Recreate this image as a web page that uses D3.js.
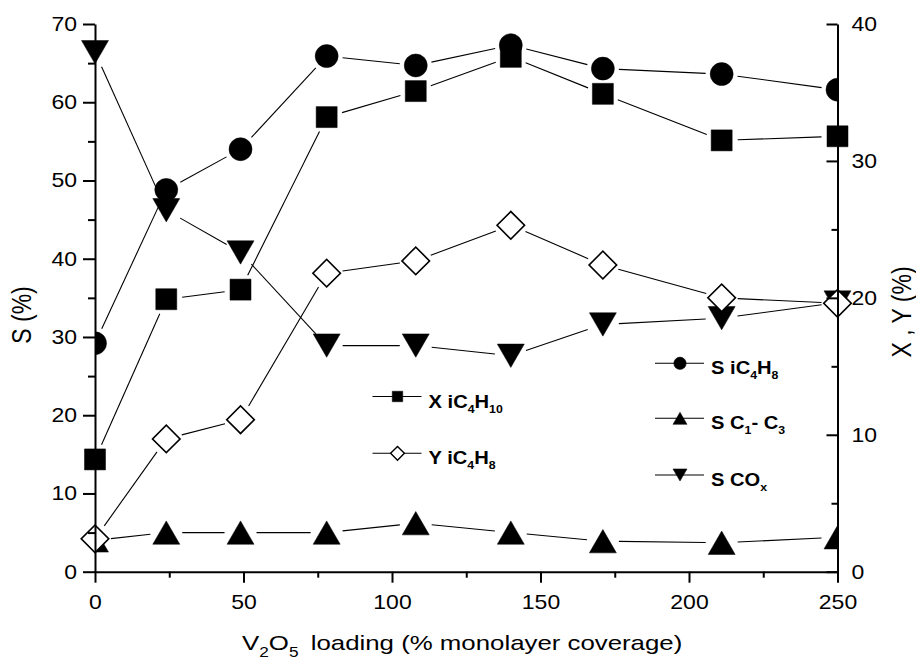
<!DOCTYPE html>
<html>
<head>
<meta charset="utf-8">
<script src="https://cdn.jsdelivr.net/npm/d3@7"></script>
<style>
  body { margin: 0; background: #fff; }
  svg { display: block; font-family: "Liberation Sans", Arial, Helvetica, sans-serif; }
</style>
</head>
<body>
<script>
// V2O5 loading (% monolayer coverage)
const loading = [0, 24, 49, 78, 108, 140, 171, 211, 250];

// left axis: selectivities S (%)
const sIC4H8 = [29.2, 48.8, 54.0, 65.9, 64.7, 67.3, 64.3, 63.6, 61.6];
const sC1C3  = [4.0, 5.0, 5.0, 5.0, 6.2, 5.0, 3.9, 3.7, 4.4];
const sCOx   = [66.4, 46.2, 40.8, 28.9, 28.9, 27.6, 31.6, 32.4, 34.4];

// right axis: conversion X and yield Y (%)
const xIC4H10 = [8.2, 19.9, 20.6, 33.2, 35.1, 37.6, 34.9, 31.5, 31.8];
const yIC4H8  = [2.4, 9.7, 11.1, 21.8, 22.7, 25.3, 22.4, 20.0, 19.6];

const xTicks = [0, 50, 100, 150, 200, 250];
const leftTicks = [0, 10, 20, 30, 40, 50, 60, 70];
const rightTicks = [0, 10, 20, 30, 40];

const width = 916, height = 663;
const plot = { left: 95, right: 837.5, top: 24, bottom: 571.7 };
const stretch = 1.15; // the original figure is a bit wider than tall, so text is too

const svg = d3.select("body").append("svg")
    .attr("width", width)
    .attr("height", height);

const x = d3.scaleLinear().domain([0, 250]).range([plot.left, plot.right]);
const yL = d3.scaleLinear().domain([0, 70]).range([plot.bottom, plot.top]);
const yR = d3.scaleLinear().domain([0, 40]).range([plot.bottom, plot.top]);

svg.append("defs").append("clipPath").attr("id", "plotclip")
  .append("rect")
    .attr("x", plot.left).attr("y", 0)
    .attr("width", plot.right - plot.left).attr("height", height);

// triangle centred on its bounding box (Origin style)
const triUp = {
  draw(ctx, size) {
    const w = Math.sqrt(size * 4 / Math.sqrt(3));
    const h = w * Math.sqrt(3) / 2;
    ctx.moveTo(0, -h / 2);
    ctx.lineTo(w / 2, h / 2);
    ctx.lineTo(-w / 2, h / 2);
    ctx.closePath();
  }
};

const series = [
  { values: sCOx,    y: yL, type: triUp,           rot: 180, size: 315, fill: "#000", clip: false },
  { values: sC1C3,   y: yL, type: triUp,           rot: 0,   size: 315, fill: "#000", clip: true },
  { values: sIC4H8,  y: yL, type: d3.symbolCircle, rot: 0,   size: 415, fill: "#000", clip: true },
  { values: xIC4H10, y: yR, type: d3.symbolSquare, rot: 0,   size: 441, fill: "#000", clip: false },
  { values: yIC4H8,  y: yR, type: d3.symbolSquare, rot: 45,  size: 380, fill: "#fff", clip: false }
];

const gap = 16;

series.forEach(s => {
  const g = svg.append("g");
  if (s.clip) g.attr("clip-path", "url(#plotclip)");
  const pts = loading.map((d, i) => [x(d), s.y(s.values[i])]);

  // connecting lines stop short of each marker
  const segs = d3.pairs(pts).map(([a, b]) => {
    const dx = b[0] - a[0], dy = b[1] - a[1];
    const len = Math.hypot(dx, dy);
    const ux = dx / len, uy = dy / len;
    return [[a[0] + ux * gap, a[1] + uy * gap], [b[0] - ux * gap, b[1] - uy * gap]];
  });
  g.selectAll("line.seg")
    .data(segs)
    .join("line")
      .attr("class", "seg")
      .attr("x1", d => d[0][0]).attr("y1", d => d[0][1])
      .attr("x2", d => d[1][0]).attr("y2", d => d[1][1])
      .attr("stroke", "#000")
      .attr("stroke-width", 1.1);

  g.selectAll("path.mk")
    .data(pts)
    .join("path")
      .attr("class", "mk")
      .attr("transform", d => `translate(${d[0]},${d[1]}) rotate(${s.rot})`)
      .attr("d", d3.symbol().type(s.type).size(s.size))
      .attr("fill", s.fill)
      .attr("stroke", "#000")
      .attr("stroke-width", s.fill === "#fff" ? 1.6 : 0.5);
});

// axes
function styleAxis(g) {
  g.selectAll("path.domain").attr("stroke-width", 2);
  g.selectAll(".tick line").attr("stroke-width", 2);
  g.selectAll(".tick text").each(function() {
    const t = d3.select(this);
    const tx = +t.attr("x") || 0;
    t.attr("x", 0)
      .attr("transform", `translate(${tx},0) scale(${stretch},1)`)
      .attr("font-size", 20)
      .attr("fill", "#000")
      .attr("font-family", "Liberation Sans, Arial, sans-serif");
  });
}

const minorX = d3.range(25, 250, 50);
const minorL = d3.range(5, 70, 10);
const minorR = d3.range(5, 40, 10);

svg.append("g")
    .attr("transform", `translate(0,${plot.bottom})`)
    .call(d3.axisBottom(x).tickValues(minorX).tickSize(6).tickFormat(""))
    .call(g => g.select(".domain").remove())
    .call(styleAxis);

svg.append("g")
    .attr("transform", `translate(0,${plot.bottom})`)
    .call(d3.axisBottom(x).tickValues(xTicks).tickSize(11).tickSizeOuter(0).tickPadding(12))
    .call(styleAxis);

svg.append("g")
    .attr("transform", `translate(${plot.left},0)`)
    .call(d3.axisLeft(yL).tickValues(minorL).tickSize(7).tickFormat(""))
    .call(g => g.select(".domain").remove())
    .call(styleAxis);

svg.append("g")
    .attr("transform", `translate(${plot.left},0)`)
    .call(d3.axisLeft(yL).tickValues(leftTicks).tickSize(12).tickSizeOuter(0).tickPadding(6))
    .call(styleAxis);

svg.append("g")
    .attr("transform", `translate(${plot.right},0)`)
    .call(d3.axisRight(yR).tickValues(minorR).tickSize(-6).tickFormat(""))
    .call(g => g.select(".domain").remove())
    .call(styleAxis);

svg.append("g")
    .attr("transform", `translate(${plot.right},0)`)
    .call(d3.axisRight(yR).tickValues(rightTicks).tickSize(-11).tickSizeOuter(0).tickPadding(14))
    .call(styleAxis);

// axis titles (rotated: local y maps to screen x, so stretch that)
svg.append("text")
    .attr("transform", "translate(31,315) rotate(-90) scale(1,1.2)")
    .attr("text-anchor", "middle")
    .attr("font-size", 23)
    .text("S (%)");

svg.append("text")
    .attr("transform", "translate(911,312) rotate(-90) scale(1,1.2)")
    .attr("text-anchor", "middle")
    .attr("font-size", 23)
    .text("X , Y (%)");

const xt = svg.append("text")
    .attr("transform", "translate(242,650) scale(1.23,1)")
    .attr("font-size", 21);
xt.append("tspan").text("V");
xt.append("tspan").attr("font-size", 14).attr("dy", 7).text("2");
xt.append("tspan").attr("dy", -7).text("O");
xt.append("tspan").attr("font-size", 14).attr("dy", 7).text("5");
xt.append("tspan").attr("dy", -7).attr("dx", 10).text("loading (% monolayer coverage)");

// legends
const legendRows = [
  { lx: 372.5, ly: 396.5, type: d3.symbolSquare, rot: 0,   size: 110, fill: "#000", parts: [["X iC", 0], ["4", 1], ["H", 0], ["10", 1]] },
  { lx: 372.5, ly: 453.3, type: d3.symbolSquare, rot: 45,  size: 95,  fill: "#fff", parts: [["Y iC", 0], ["4", 1], ["H", 0], ["8", 1]] },
  { lx: 655,   ly: 363.3, type: d3.symbolCircle, rot: 0,   size: 120, fill: "#000", parts: [["S iC", 0], ["4", 1], ["H", 0], ["8", 1]] },
  { lx: 655,   ly: 418.3, type: triUp,           rot: 0,   size: 85,  fill: "#000", parts: [["S C", 0], ["1", 1], ["- C", 0], ["3", 1]] },
  { lx: 655,   ly: 475,   type: triUp,           rot: 180, size: 85,  fill: "#000", parts: [["S CO", 0], ["x", 1]] }
];

legendRows.forEach(r => {
  const g = svg.append("g").attr("transform", `translate(${r.lx},${r.ly})`);
  g.append("line")
      .attr("x1", 0).attr("x2", 49)
      .attr("stroke", "#000").attr("stroke-width", 1.1);
  g.append("path")
      .attr("transform", `translate(25,0) rotate(${r.rot})`)
      .attr("d", d3.symbol().type(r.type).size(r.size))
      .attr("fill", r.fill)
      .attr("stroke", "#000")
      .attr("stroke-width", r.fill === "#fff" ? 1.4 : 0.5);
  const t = g.append("text")
      .attr("transform", "translate(56,11) scale(1.12,1)")
      .attr("font-size", 18)
      .attr("font-weight", "bold");
  let sub = 0;
  r.parts.forEach(([s, isSub]) => {
    const ts = t.append("tspan").text(s);
    if (isSub && !sub) { ts.attr("font-size", 11).attr("dy", 5); sub = 1; }
    else if (!isSub && sub) { ts.attr("dy", -5); sub = 0; }
    else if (isSub) ts.attr("font-size", 11);
  });
});
</script>
</body>
</html>
